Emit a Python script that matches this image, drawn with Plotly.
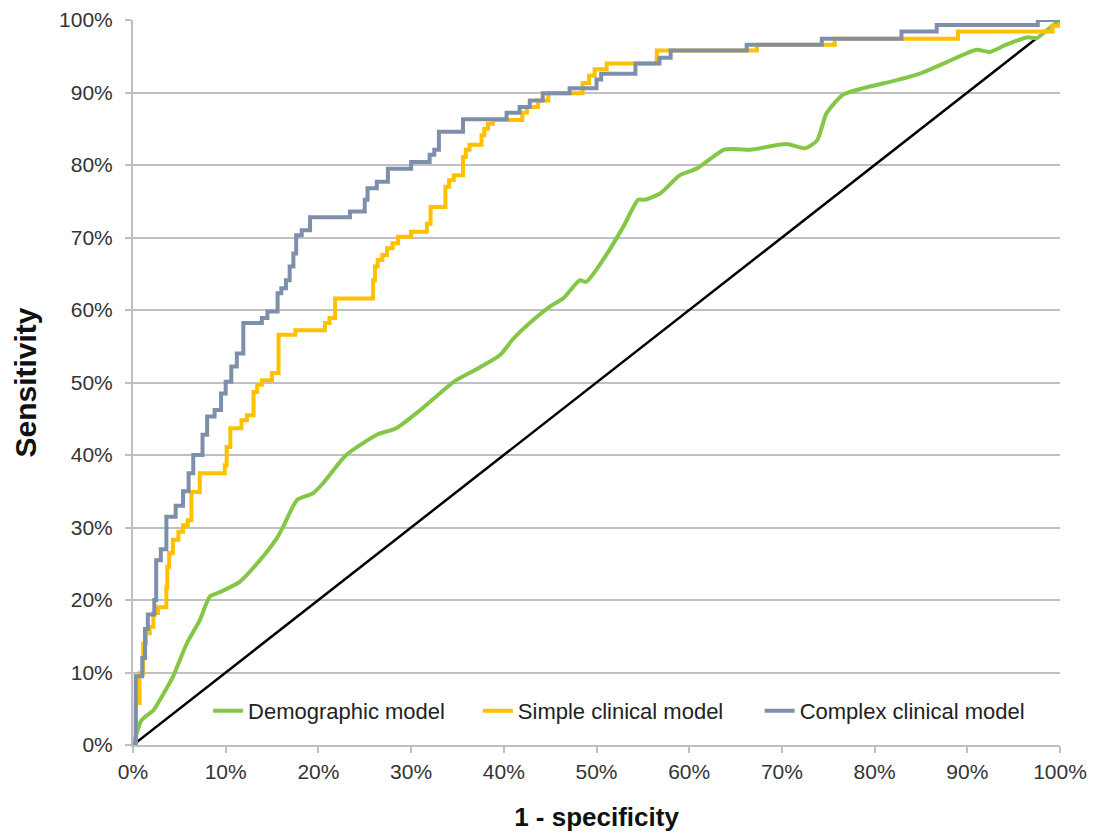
import plotly.graph_objects as go

# ---- data (percent) ----
complex_x = [0, 0.3, 1.0, 1.3, 1.6, 2.3, 2.5, 3.0, 3.6, 4.6, 5.4, 6.0, 6.5, 7.5, 8.0, 8.8, 9.5, 10.0, 10.6,
             11.2, 11.9, 13.9, 14.5, 15.6, 16.0, 16.5, 16.9, 17.3, 17.6, 18.2, 19.1, 23.4, 25.0, 25.3, 26.3,
             27.5, 30.0, 32.0, 32.5, 33.0, 35.6, 40.3, 41.7, 42.8, 44.2, 47.1, 50.0, 50.5, 54.2, 56.8, 58.0,
             66.2, 74.3, 82.9, 86.7, 97.6, 100]
complex_y = [0, 9.5, 12, 16, 18, 20, 25.5, 27, 31.5, 33, 35, 37.5, 40, 42.8, 45.3, 46.2, 48.5, 50.1, 52.2,
             54, 58.2, 58.9, 59.8, 62.3, 63, 64.1, 66, 67.8, 70.3, 71, 72.8, 73.6, 75.2, 76.8, 77.7,
             79.5, 80.4, 81.4, 82.1, 84.6, 86.3, 87.2, 88.0, 88.9, 89.9, 90.6, 91.8, 92.6, 94.0, 94.8, 95.8,
             96.6, 97.4, 98.4, 99.3, 100, 100]

simple_x = [0, 0.3, 0.7, 1.1, 1.4, 1.8, 2.2, 2.7, 3.6, 3.7, 3.9, 4.3, 4.9, 5.4, 5.9, 6.3, 7.2, 9.9, 10.1,
            10.5, 11.7, 12.3, 13.0, 13.4, 13.9, 15.0, 15.7, 17.5, 20.7, 21.2, 21.8, 25.9, 26.1, 26.4, 26.9,
            27.4, 28.0, 28.6, 30.0, 31.7, 32.1, 33.7, 34.1, 34.6, 35.6, 35.9, 36.3, 37.6, 37.9, 38.3, 38.8,
            42.0, 42.5, 43.7, 44.8, 48.5, 49.2, 49.8, 51.1, 56.5, 67.3, 75.7, 89.0, 99.2, 100]
simple_y = [0, 5.8, 9.9, 14, 15.4, 16.3, 18.2, 19, 21.8, 24.6, 26.5, 28.3, 29.4, 30.3, 31, 34.9, 37.5, 38.6, 41.1,
            43.7, 44.8, 45.5, 48.7, 49.7, 50.3, 51.3, 56.6, 57.2, 58.2, 58.9, 61.6, 64.1, 66.0, 66.9, 67.6,
            68.5, 69.2, 70.1, 70.8, 71.9, 74.2, 77.0, 77.9, 78.6, 81.1, 82.1, 82.8, 84.1, 85.0, 85.7, 86.2,
            87.2, 88.0, 88.9, 89.9, 91.3, 92.3, 93.2, 94.0, 95.8, 96.6, 97.4, 98.4, 99.2, 100]

demo_x = [0, 0.4, 0.9, 2.2, 3.3, 4.3, 5.8, 7.2, 8.3, 9.4, 11.5, 13.7, 15.5, 16.2, 17.7, 19.4, 20.5, 23.0,
          26.3, 28.4, 31.0, 34.6, 37.0, 39.6, 41.0, 42.8, 45.0, 46.4, 48.2, 48.9, 50.7, 52.9, 54.5, 55.2,
          56.9, 59.0, 60.8, 63.7, 64.7, 66.6, 70.5, 72.5, 73.8, 74.8, 76.6, 78.8, 82.4, 84.9, 87.8, 91.0,
          92.4, 94.2, 96.4, 97.5, 98.6, 100]
demo_y = [0, 1.6, 3.4, 4.8, 7.1, 9.4, 14, 17.2, 20.5, 21.1, 22.5, 25.5, 28.5, 30.1, 33.8, 34.7, 36.1, 40.0,
          42.8, 43.7, 46.2, 50.1, 51.8, 53.8, 56.0, 58.2, 60.5, 61.6, 64.1, 63.9, 66.9, 71.5, 75.2, 75.2,
          76.1, 78.6, 79.5, 82.1, 82.2, 82.1, 82.9, 82.3, 83.4, 87.1, 89.7, 90.6, 91.7, 92.6, 94.2, 95.9,
          95.6, 96.6, 97.6, 97.5, 98.6, 100]

ref_x = [0, 100]
ref_y = [0, 100]

tick_vals = [0, 0.1, 0.2, 0.3, 0.4, 0.5, 0.6, 0.7, 0.8, 0.9, 1.0]
tick_text = ["0%", "10%", "20%", "30%", "40%", "50%", "60%", "70%", "80%", "90%", "100%"]

def frac(v):
    return [a / 100.0 for a in v]

fig = go.Figure()
fig.add_trace(go.Scatter(x=frac(ref_x), y=frac(ref_y), mode="lines", showlegend=False,
                         line=dict(color="#000000", width=2.5), hoverinfo="skip"))
fig.add_trace(go.Scatter(x=frac(demo_x), y=frac(demo_y), mode="lines", name="Demographic model",
                         legend="legend",
                         line=dict(color="#84c746", width=4, shape="spline", smoothing=0.6)))
fig.add_trace(go.Scatter(x=frac(simple_x), y=frac(simple_y), mode="lines", name="Simple clinical model",
                         legend="legend2",
                         line=dict(color="#ffc000", width=4, shape="hv")))
fig.add_trace(go.Scatter(x=frac(complex_x), y=frac(complex_y), mode="lines", name="Complex clinical model",
                         legend="legend3",
                         line=dict(color="#7e8fab", width=4, shape="hv")))

leg_common = dict(y=0.047, xanchor="left", yanchor="middle", bgcolor="rgba(0,0,0,0)",
                  font=dict(size=22, color="#222222"), itemwidth=30)

fig.update_layout(
    width=1090, height=828,
    margin=dict(l=125, r=38, t=12, b=91),
    paper_bgcolor="white", plot_bgcolor="white",
    font=dict(family="Liberation Sans, Arial, sans-serif", color="#333333", size=20),
    legend=dict(x=0.081, **leg_common),
    legend2=dict(x=0.372, **leg_common),
    legend3=dict(x=0.676, **leg_common),
    xaxis=dict(range=[0, 1], tickvals=tick_vals, ticktext=tick_text, showgrid=False, zeroline=False,
               automargin=False,
               showline=True, linecolor="#bfbfbf", linewidth=2, ticks="outside", ticklen=6,
               tickcolor="#bfbfbf", tickwidth=1.5, ticklabelstandoff=1,
               tickfont=dict(size=21, color="#333333"),
               title=dict(text="<b>1 - specificity</b>", standoff=26,
                          font=dict(size=26, color="#111111"))),
    yaxis=dict(range=[0, 1], tickvals=tick_vals, ticktext=tick_text, showgrid=True, gridcolor="#c0c0c0",
               automargin=False,
               gridwidth=1.5, zeroline=False, showline=True, linecolor="#bfbfbf", linewidth=2,
               ticks="outside", ticklen=6, tickcolor="#bfbfbf", tickwidth=1.5, ticklabelstandoff=8,
               tickfont=dict(size=21, color="#333333"),
               title=dict(text="<b>Sensitivity</b>", standoff=14,
                          font=dict(size=30, color="#111111"))),
)

fig.write_html("out.html")
